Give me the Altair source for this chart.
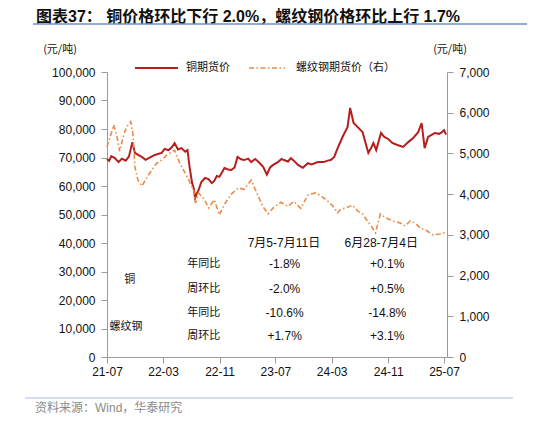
import altair as alt
import pandas as pd

# ---------------- data ----------------
cu_dates = ["2021-07-01","2021-07-10","2021-07-20","2021-08-04","2021-08-20","2021-09-04","2021-09-20",
            "2021-10-04","2021-10-19","2021-10-30","2021-11-15","2021-11-29","2021-12-15","2021-12-29",
            "2022-01-12","2022-01-24","2022-02-10","2022-02-23","2022-03-08","2022-03-25","2022-04-08",
            "2022-04-20","2022-05-05","2022-05-20","2022-06-05","2022-06-15","2022-06-24","2022-07-05",
            "2022-07-11","2022-07-18","2022-07-26","2022-08-02","2022-08-14","2022-08-30","2022-09-14",
            "2022-09-28","2022-10-09","2022-10-20","2022-10-31","2022-11-10","2022-11-22","2022-12-08",
            "2022-12-22","2023-01-05","2023-01-18","2023-02-02","2023-02-16","2023-03-05","2023-03-18",
            "2023-04-04","2023-04-17","2023-05-09","2023-05-25","2023-06-08","2023-06-21","2023-07-12",
            "2023-07-28","2023-08-07","2023-08-25","2023-09-06","2023-09-20","2023-10-07","2023-10-28",
            "2023-11-19","2023-12-05","2024-01-01","2024-01-27","2024-02-12","2024-02-26","2024-03-12",
            "2024-03-27","2024-04-17","2024-05-09","2024-05-20","2024-06-04","2024-06-25","2024-07-13",
            "2024-07-26","2024-08-07","2024-08-20","2024-08-29","2024-09-10","2024-10-01","2024-10-15",
            "2024-11-01","2024-11-19","2024-12-11","2025-01-05","2025-01-27","2025-02-17","2025-03-11",
            "2025-03-26","2025-04-08","2025-04-23","2025-05-10","2025-05-23","2025-06-10","2025-06-22",
            "2025-07-01","2025-07-10"]
cu_values = [69500,68800,70500,69800,68400,69600,68900,
             70300,75400,71600,70800,70200,69200,69800,
             70400,70900,71300,71600,73000,72600,73600,
             75000,72800,73300,72000,72600,66700,61000,
             59600,55800,57500,58600,61400,62800,62400,
             61000,61800,63500,63200,64600,66300,65800,
             65600,66500,70200,69400,69100,69600,68400,
             69500,68600,66700,64000,66500,67400,68400,
             69500,69100,68600,69800,68800,67400,66400,
             68000,67600,68400,68400,68900,69100,70200,
             73300,77200,80700,87400,82100,80400,78900,
             75100,71600,73500,75100,72600,78600,77200,
             76500,75100,74400,73700,75400,76800,78900,
             82100,73300,77200,78000,78600,78300,78900,
             79600,78000]

rb_dates = ["2021-07-01","2021-07-20","2021-07-30","2021-08-12","2021-08-25","2021-09-11","2021-09-24",
            "2021-10-12","2021-10-21","2021-10-30","2021-11-12","2021-11-29","2021-12-20","2022-01-11",
            "2022-02-02","2022-02-23","2022-03-17","2022-04-07","2022-04-20","2022-05-12","2022-05-29",
            "2022-06-20","2022-07-11","2022-07-20","2022-08-02","2022-08-28","2022-09-14","2022-10-09",
            "2022-10-31","2022-11-22","2022-12-22","2023-01-21","2023-02-16","2023-03-18","2023-03-31",
            "2023-04-21","2023-05-09","2023-05-30","2023-06-25","2023-07-25","2023-08-24","2023-09-19",
            "2023-10-19","2023-11-19","2023-12-01","2023-12-23","2024-01-14","2024-02-13","2024-03-06",
            "2024-03-27","2024-04-09","2024-05-01","2024-05-31","2024-06-21","2024-07-13","2024-08-03",
            "2024-08-25","2024-09-07","2024-09-28","2024-10-11","2024-11-01","2024-11-23","2024-12-23",
            "2025-01-14","2025-02-04","2025-02-26","2025-03-19","2025-04-18","2025-05-14","2025-06-13",
            "2025-07-05"]
rb_values = [5160,5500,5700,5450,5050,5450,5650,
             5780,5500,4670,4350,4200,4400,4590,
             4760,4840,4960,5035,5080,4770,4590,
             4350,4100,3780,4030,3860,3660,3860,
             3490,3750,4000,4150,4120,4347,4175,
             3905,3684,3520,3680,3800,3700,3820,
             3650,3980,4000,4030,3960,3830,3710,
             3540,3630,3660,3730,3590,3510,3340,
             3170,3050,3510,3460,3390,3340,3290,
             3220,3340,3290,3170,3100,3000,3020,
             3050]

x_tick_dates = [(2021, 7), (2022, 3), (2022, 11), (2023, 7), (2024, 3), (2024, 11), (2025, 7)]
left_ticks = [0, 10000, 20000, 30000, 40000, 50000, 60000, 70000, 80000, 90000, 100000]
right_ticks = [0, 1000, 2000, 3000, 4000, 5000, 6000, 7000]

title_text = "图表37：  铜价格环比下行 2.0%，螺纹钢价格环比上行 1.7%"
source_text = "资料来源：Wind，华泰研究"
unit_text = "(元/吨)"
legend_labels = ["铜期货价", "螺纹钢期货价（右）"]

# summary table drawn inside the plot
tbl_headers = ["7月5-7月11日", "6月28-7月4日"]
tbl_row_labels = ["年同比", "周环比", "年同比", "周环比"]
tbl_groups = ["铜", "螺纹钢"]
tbl_col1 = ["-1.8%", "-2.0%", "-10.6%", "+1.7%"]
tbl_col2 = ["+0.1%", "+0.5%", "-14.8%", "+3.1%"]
# anchor positions in data space (date, left-axis value)
tbl_col_dates = ["2023-08-10", "2024-10-28"]
tbl_head_dates = ["2023-08-07", "2024-10-02"]
tbl_label_date = "2022-08-24"
tbl_row_y = [32600, 23900, 15400, 7400]
tbl_head_y = 40000
tbl_group_dates = ["2021-10-08", "2021-09-21"]
tbl_group_y = [27000, 10500]

RED = "#B81D1D"
ORANGE = "#EB8B47"
AXIS = "#9a9a9a"
NUMFONT = "Liberation Sans, Noto Sans CJK SC"
CJK = "Noto Sans CJK SC"
DASH = [5, 2.5, 1.5, 2.5]

W, H = 340, 285

cu = pd.DataFrame({"date": cu_dates, "value": cu_values})
rb = pd.DataFrame({"date": rb_dates, "value": rb_values})

xscale = alt.Scale(type="utc", domain=[alt.DateTime(year=2021, month=7, date=1, utc=True),
                                       alt.DateTime(year=2025, month=7, date=14, utc=True)])
xaxis = alt.Axis(values=[alt.DateTime(year=y, month=m, date=1, utc=True) for y, m in x_tick_dates],
                 labelExpr="utcFormat(datum.value, '%y-%m')", title=None, grid=False, labelFlush=False)

def X():
    return alt.X("date:T", scale=xscale, axis=xaxis)

left_scale = alt.Scale(domain=[0, 100000], nice=False, zero=True)

red = alt.Chart(cu).mark_line(color=RED, strokeWidth=2).encode(
    x=X(),
    y=alt.Y("value:Q", scale=left_scale,
            axis=alt.Axis(values=left_ticks, labelExpr="format(datum.value, ',')", title=None,
                          grid=False, orient="left")),
)

orange = alt.Chart(rb).mark_line(color=ORANGE, strokeWidth=1.6, strokeDash=DASH).encode(
    x=X(),
    y=alt.Y("value:Q", scale=alt.Scale(domain=[0, 7000], nice=False),
            axis=alt.Axis(values=right_ticks, labelExpr="format(datum.value, ',')", title=None,
                          grid=False, orient="right")),
)

# table text in data coordinates
rows = []
for i in range(4):
    rows.append({"date": tbl_label_date, "value": tbl_row_y[i], "txt": tbl_row_labels[i], "kind": "cjk"})
    rows.append({"date": tbl_col_dates[0], "value": tbl_row_y[i], "txt": tbl_col1[i], "kind": "num"})
    rows.append({"date": tbl_col_dates[1], "value": tbl_row_y[i], "txt": tbl_col2[i], "kind": "num"})
for j in range(2):
    rows.append({"date": tbl_head_dates[j], "value": tbl_head_y, "txt": tbl_headers[j], "kind": "num"})
    rows.append({"date": tbl_group_dates[j], "value": tbl_group_y[j], "txt": tbl_groups[j], "kind": "cjk"})
tdf = pd.DataFrame(rows)

tbl_num = alt.Chart(tdf).transform_filter(alt.datum.kind == "num").mark_text(
    font=NUMFONT, fontSize=12, color="#111").encode(
    x=X(), y=alt.Y("value:Q", scale=left_scale, axis=None), text="txt:N")
tbl_cjk = alt.Chart(tdf).transform_filter(alt.datum.kind == "cjk").mark_text(
    font=CJK, fontSize=11, color="#111").encode(
    x=X(), y=alt.Y("value:Q", scale=left_scale, axis=None), text="txt:N")

# decorations (pixel positions relative to the plot area)
one = pd.DataFrame({"a": [0]})

def label(txt, x, y, size=11, font=CJK, color="#111", align="left", weight="normal"):
    return alt.Chart(one).mark_text(text=txt, font=font, fontSize=size, color=color, align=align,
                                    baseline="middle", fontWeight=weight).encode(
        x=alt.value(x), y=alt.value(y))

def hline(x1, x2, y, color, width=1, dash=None):
    kw = dict(color=color, strokeWidth=width)
    if dash:
        kw["strokeDash"] = dash
    return alt.Chart(one).mark_rule(**kw).encode(x=alt.value(x1), x2=alt.value(x2), y=alt.value(y))

deco = [
    label(title_text, -71, -55, size=16, font=NUMFONT, weight="bold"),
    hline(-74, 420, -48, "#6F8FC2", 1.3),
    label(unit_text, -47, -22, align="center"),
    label(unit_text, 343, -22, align="center"),
    hline(28, 71, -4, RED, 2),
    label(legend_labels[0], 79, -4),
    hline(142, 178, -4, ORANGE, 1.6, DASH),
    label(legend_labels[1], 189, -4),
    hline(-82, 406, 326, "#A9BEDC", 1.2),
    label(source_text, -72, 336, size=12, font=NUMFONT, color="#8a8a8a"),
]

chart = alt.layer(red, orange, tbl_num, tbl_cjk, *deco).resolve_scale(y="independent").properties(
    width=W, height=H,
    autosize=alt.AutoSizeParams(type="none"),
    padding={"left": 99, "top": 64, "right": 80, "bottom": 58},
).configure_view(stroke=None).configure_axis(
    domainColor=AXIS, tickColor=AXIS, tickSize=6, labelPadding=6,
    labelFont="Liberation Sans", labelFontSize=12, labelColor="#111",
).configure_axisX(labelPadding=3)

chart.save("out.html", embed_options={"renderer": "svg", "actions": False})
